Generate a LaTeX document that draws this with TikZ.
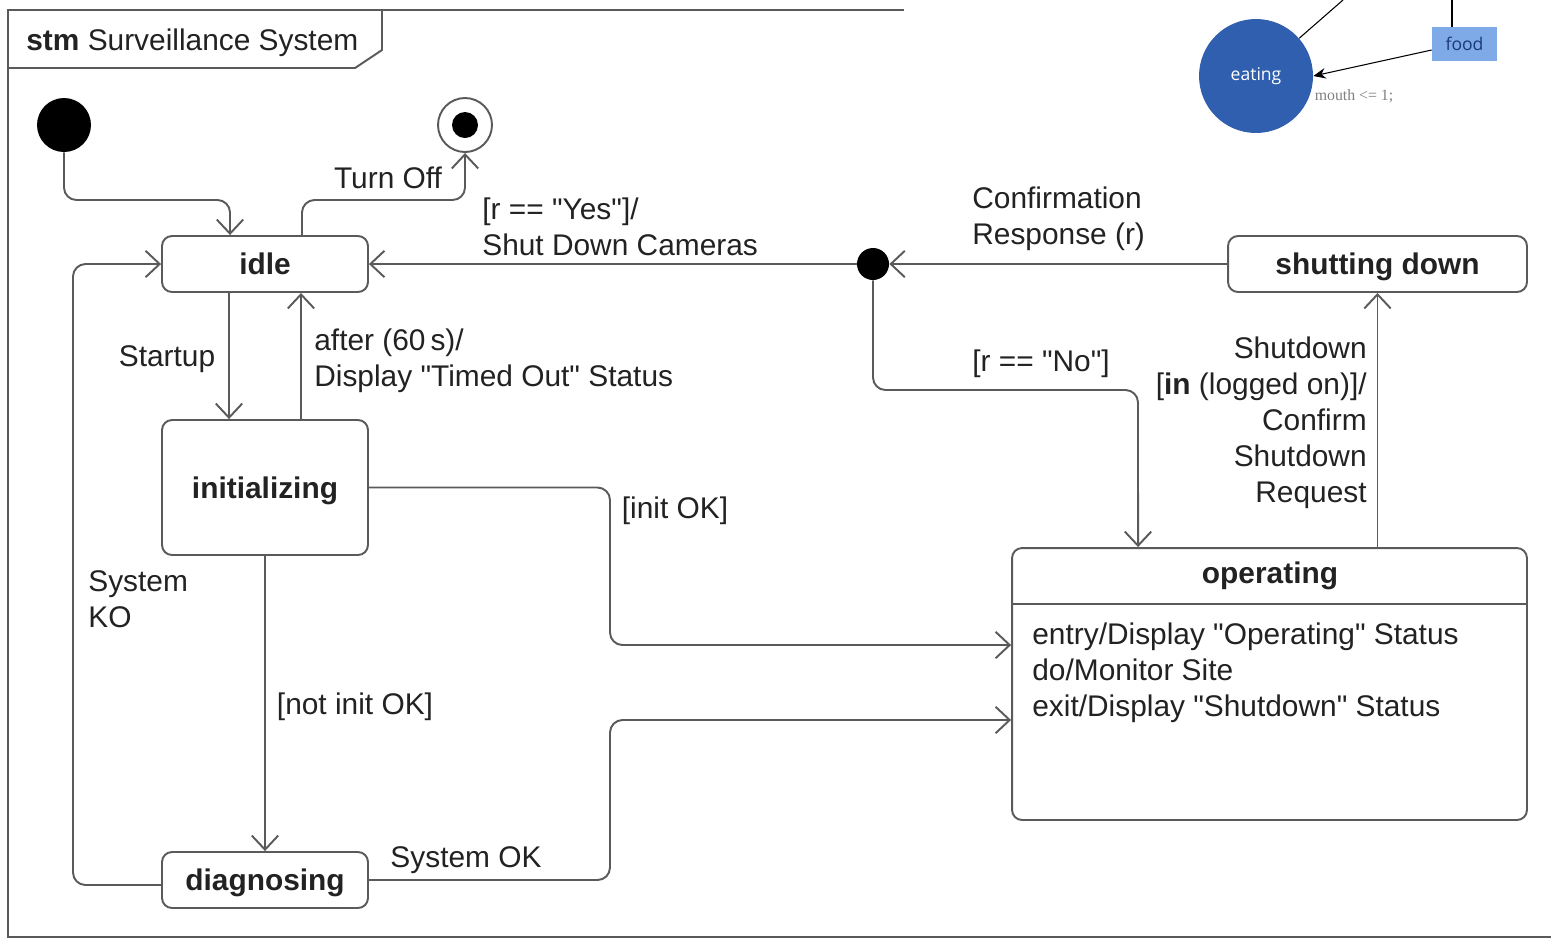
\documentclass[tikz,border=0pt]{standalone}
\usepackage{fontspec}
\setmainfont{Liberation Sans}[Ligatures=TeXOff]
\newfontfamily\serifsmall{Liberation Serif}
\newfontfamily\uifont{Open Sans}
\usetikzlibrary{arrows.meta,positioning}

\definecolor{linegray}{HTML}{5A5A5A}
\definecolor{textdark}{HTML}{222222}
\definecolor{eatblue}{HTML}{2F5FAE}
\definecolor{foodblue}{HTML}{7EAAE8}
\definecolor{foodtext}{HTML}{1B3A78}

\newcommand{\umlfont}{\fontsize{17}{20.5}\selectfont}

\tikzset{
  frameline/.style={draw=linegray, line width=1.1pt},
  state/.style={draw=linegray, line width=1.1pt, rounded corners=0.2cm,
    minimum width=4.12cm, minimum height=1.12cm, inner sep=0pt,
    text depth=0pt, text=textdark, font=\umlfont\bfseries},
  trans/.style={draw=linegray, line width=1.1pt, rounded corners=0.25cm,
    -{Straight Barb[length=8pt,width=15pt]}},
  lbl/.style={text=textdark, font=\umlfont, inner sep=0pt, align=left},
  startdot/.style={circle, fill=black, minimum size=1.08cm, inner sep=0pt},
  choicedot/.style={circle, fill=black, minimum size=0.64cm, inner sep=0pt},
  stopring/.style={circle, draw=linegray, line width=1.1pt, fill=white,
    minimum size=1.08cm, inner sep=0pt},
}

\begin{document}
\begin{tikzpicture}[x=0.02cm, y=-0.02cm]
  \useasboundingbox (0,0) rectangle (1551,938);

  % frame and name tag
  \draw[frameline] (904,10) -- (8,10) -- (8,937) -- (1551,937);
  \draw[frameline] (8,68) -- (355,68) -- (382,50) -- (382,10);
  \node[lbl, anchor=west] (title) at (26,43) {\textbf{stm} Surveillance System};

  % pseudo states
  \node[startdot] (start) at (64,125) {};
  \node[stopring] (stop) at (465,125) {};
  \fill (stop) circle (0.26cm);
  \node[choicedot] (choice) at (873,264) {};

  % states
  \node[state] (idle) at (265,264) {idle};
  \node[state, minimum height=2.7cm] (init) at (265,487.5) {initializing};
  \node[state] (diag) at (265,880) {diagnosing};
  \node[state, minimum width=5.98cm] (shut) at (1377.5,264) {shutting down};
  \node[state, minimum width=10.3cm, minimum height=5.44cm] (oper) at (1269.5,684) {};
  \node[lbl, font=\umlfont\bfseries] (opname) at (1270,576) {operating};
  \draw[frameline] (oper.west |- 0,604) -- (oper.east |- 0,604);
  \node[lbl, anchor=north west] (opacts) at (1032,622)
    {entry/Display "Operating" Status\\do/Monitor Site\\exit/Display "Shutdown" Status};

  % transitions
  \draw[trans] (start) |- (230,200) -- ([xshift=-0.7cm]idle.north);
  \draw[trans] ([xshift=0.74cm]idle.north) -- (302,200) -| (stop);
  \draw[trans] (choice) -- (idle);
  \draw[trans] (shut) -- (choice);
  \draw[trans] (choice) |- (1138,390) -- ([xshift=-2.63cm]oper.north);
  \draw[trans] (oper.north -| shut) -- (shut);
  \draw[trans] ([xshift=-0.72cm]idle.south) -- ([xshift=-0.72cm]init.north);
  \draw[trans] ([xshift=0.72cm]init.north) -- ([xshift=0.72cm]idle.south);
  \draw[trans] (init.east) -- (610,487.5) |- ([yshift=0.78cm]oper.west);
  \draw[trans] (init) -- (diag);
  \draw[trans] (diag.east) -- (610,880) |- ([yshift=-0.72cm]oper.west);
  \draw[trans] ([yshift=-0.1cm]diag.west) -| (73,264) -- (idle.west);

  % transition labels
  \node[lbl] (lturnoff) at (388,178) {Turn Off};
  \node[lbl, anchor=west] (lyes) at (482,227) {[r == "Yes"]/\\Shut Down Cameras};
  \node[lbl, anchor=west] (lconfirm) at (972,219) {Confirmation\\Response (r)};
  \node[lbl] (lno) at (1041,364) {[r == "No"]};
  \node[lbl, anchor=east, align=right] (lrequest) at (1367,423)
    {Shutdown\\{[}\textbf{in} (logged on)]/\\Confirm\\Shutdown\\Request};
  \node[lbl] (lstartup) at (167,359) {Startup};
  \node[lbl, anchor=west] (ltimeout) at (314,361) {after (60\,s)/\\Display "Timed Out" Status};
  \node[lbl] (linitok) at (675,511) {[init OK]};
  \node[lbl] (lnotok) at (355,707) {[not init OK]};
  \node[lbl] (lsysok) at (466,860) {System OK};
  \node[lbl, anchor=west] (lsysko) at (88,599) {System\\KO};

  % corner snippet
  \node[circle, fill=eatblue, minimum size=2.28cm, inner sep=0pt, text=white,
    font=\uifont\fontsize{10}{12}\selectfont] (eating) at (1256,76) {eating};
  \node[fill=foodblue, minimum width=1.3cm, minimum height=0.68cm, inner sep=0pt,
    text=foodtext, font=\uifont\fontsize{10}{12}\selectfont] (food) at (1464.5,44) {food};
  \draw[line width=0.6pt] (eating) -- (1343,0);
  \draw[line width=0.6pt] (food.north -| 1452,0) -- (1452,0);
  \draw[line width=0.6pt, -{Stealth[length=7pt,width=6pt]}] ([yshift=-0.12cm]food.west) -- (eating.east);
  \node[text=gray, font=\serifsmall\fontsize{9}{11}\selectfont, inner sep=0pt] (mouth) at (1354,96) {mouth <= 1;};
\end{tikzpicture}
\end{document}
